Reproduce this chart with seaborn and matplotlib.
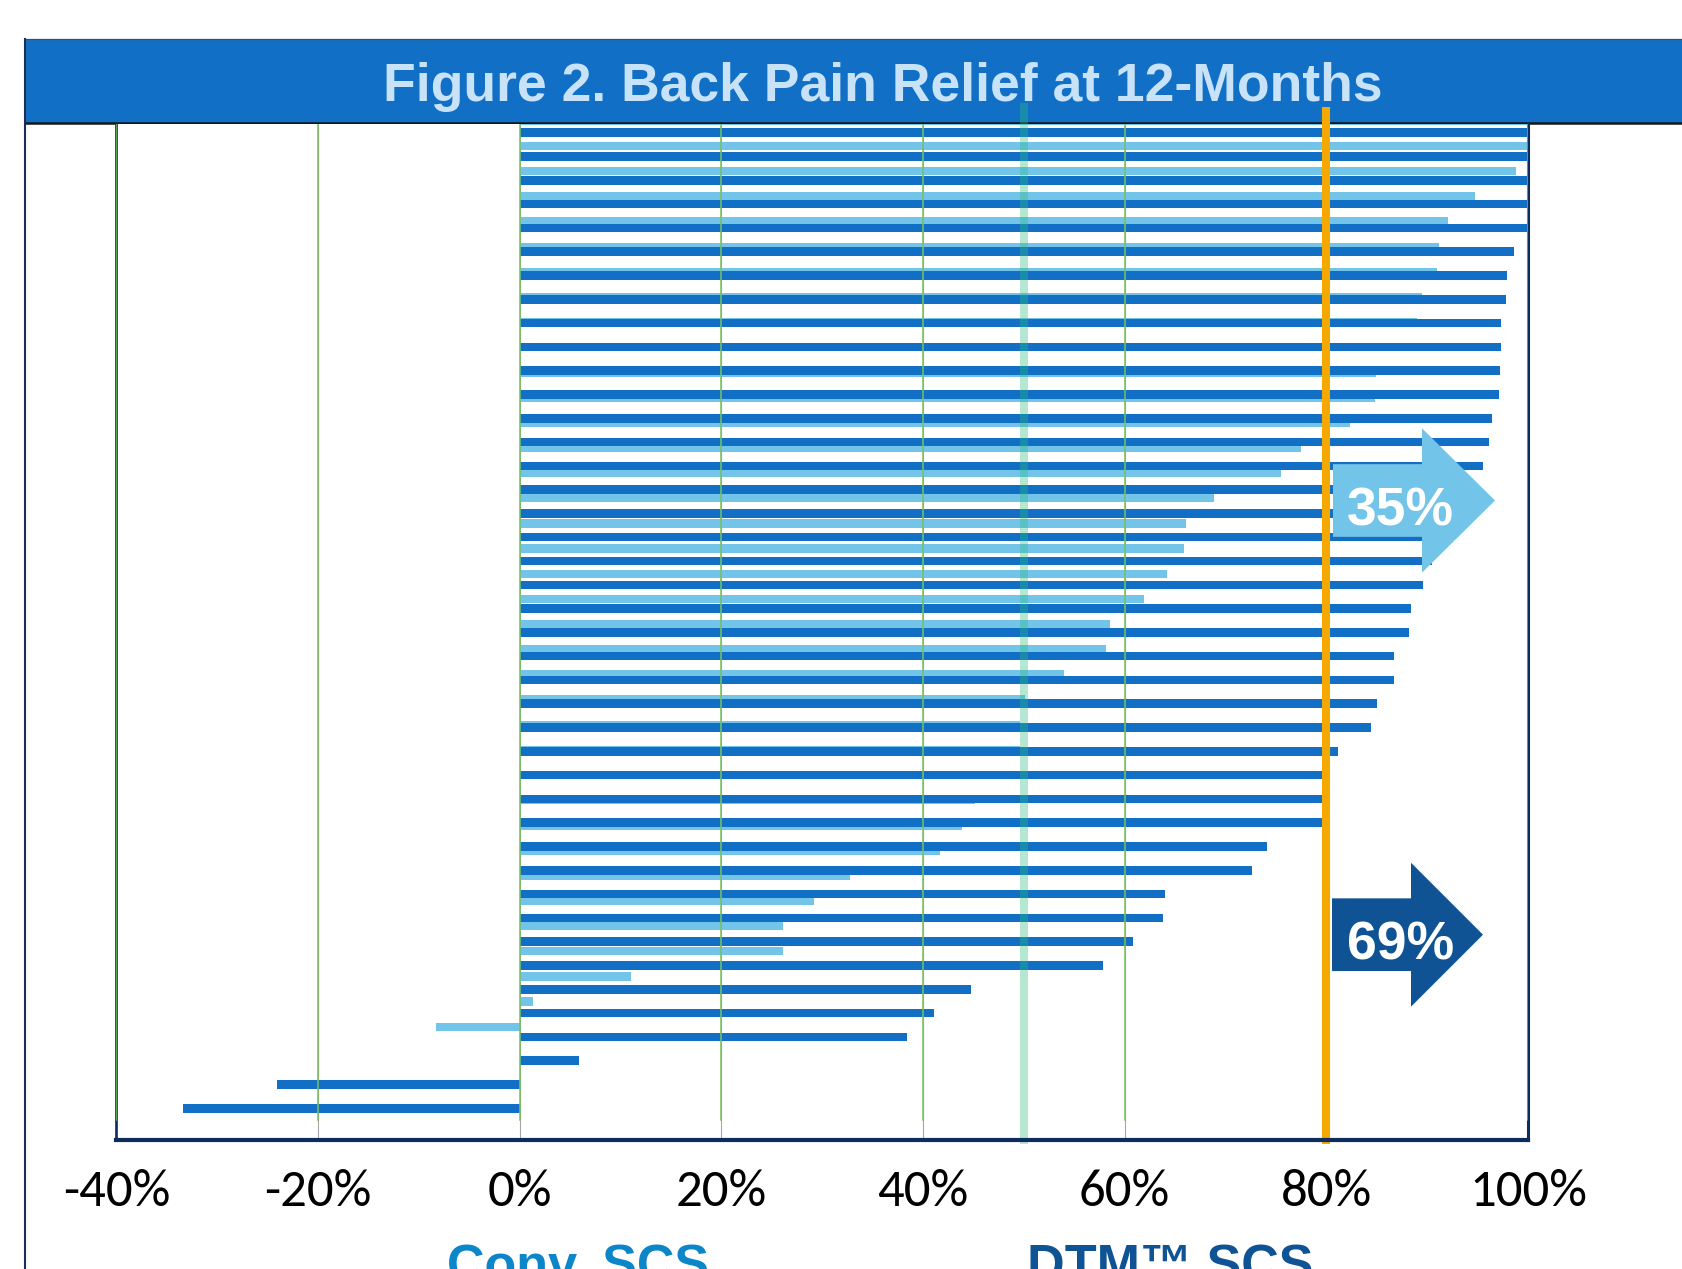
import matplotlib
matplotlib.use("Agg")
import matplotlib.pyplot as plt
import numpy as np
import pandas as pd
import seaborn as sns
from matplotlib.patches import Polygon, Rectangle
from matplotlib.lines import Line2D
from matplotlib import font_manager as fm

# ---------------- data (percent back pain relief at 12 months, one bar per patient) -------------
dtm_relief = [100, 100, 100, 100, 100, 98.6, 97.9, 97.8, 97.3, 97.3, 97.2, 97.1, 96.4, 96.1,
              95.5, 95.0, 93.5, 92.0, 90.5, 89.6, 88.4, 88.2, 86.7, 86.7, 85.0, 84.4, 81.2,
              80.0, 80.0, 79.7, 74.1, 72.6, 64.0, 63.8, 60.8, 57.8, 44.8, 41.1, 38.4, 5.9,
              -24.1, -33.4]
conv_relief = [100, 100, 98.8, 94.7, 92.1, 91.2, 91.0, 89.5, 89.0, 85.1, 84.9, 84.8, 82.3,
               77.5, 75.5, 68.9, 66.1, 65.9, 64.2, 61.9, 58.5, 58.1, 54.0, 50.1, 49.6, 49.6,
               47.4, 45.2, 43.9, 41.7, 32.8, 29.2, 26.1, 26.1, 11.0, 1.3, -8.3]
dtm_ids = [f"DTM-{i + 1}" for i in range(len(dtm_relief))]
conv_ids = [f"CONV-{i + 1}" for i in range(len(conv_relief))]
x_ticks = [-40, -20, 0, 20, 40, 60, 80, 100]
x_tick_labels = ["-40%", "-20%", "0%", "20%", "40%", "60%", "80%", "100%"]
threshold = 80
half_line = 50
dtm_responders = "69%"
conv_responders = "35%"
title = "Figure 2. Back Pain Relief at 12-Months"

# ---------------- style ----------------
DARK = "#1170c6"
LIGHT = "#72c4e8"
BANNER = "#1170c6"
TITLE_C = "#c8e2f8"
NAVY = "#0d2b5c"
GREEN = "#77c15a"
ORANGE = "#f5a800"
MINT = "#2cbd7e"
ARROW_DARK = "#0f5394"
CONV_C = "#0b86c9"
DTM_C = "#0e5394"

W, H = 1683, 1269
fig = plt.figure(figsize=(W / 100, H / 100), dpi=100)
fig.patch.set_facecolor("white")


def fx(px):
    return px / W


def fy(py):
    return 1 - py / H


avail = {f.name for f in fm.fontManager.ttflist}
if "Carlito" in avail:
    tick_family, tick_size = "Carlito", 38
elif "Liberation Sans Narrow" in avail:
    tick_family, tick_size = "Liberation Sans Narrow", 37
else:
    tick_family, tick_size = "Open Sans", 34
bold_family = ["Liberation Sans", "DejaVu Sans"]

# axes geometry (pixels)
ax_left, ax_right, ax_top, ax_bottom = 116.5, 1528.0, 124.0, 1139.5
rect = [fx(ax_left), fy(ax_bottom), (ax_right - ax_left) / W, (ax_bottom - ax_top) / H]
ax_l = fig.add_axes(rect)
ax_d = fig.add_axes(rect, sharex=ax_l)
ax_d.set_facecolor("none")

conv_df = pd.DataFrame({"patient": conv_ids, "relief": conv_relief})
dtm_df = pd.DataFrame({"patient": dtm_ids, "relief": dtm_relief})

sns.barplot(data=conv_df, x="relief", y="patient", orient="h", color=LIGHT, saturation=1,
            width=0.33, linewidth=0, errorbar=None, ax=ax_l)
sns.barplot(data=dtm_df, x="relief", y="patient", orient="h", color=DARK, saturation=1,
            width=0.36, linewidth=0, errorbar=None, ax=ax_d)

# category scales: map pixel rows onto category positions
d0, dstep = 132.7, 23.795
c0, cstep = 120.84, 25.163
ax_d.set_ylim((ax_bottom - d0) / dstep, (ax_top - d0) / dstep)
ax_l.set_ylim((ax_bottom - c0) / cstep, (ax_top - c0) / cstep)
ax_d.set_xlim(-40, 100)

for a in (ax_l, ax_d):
    a.set_ylabel("")
    a.set_xlabel("")
    a.set_yticks([])

ax_l.set_axisbelow(True)
ax_l.grid(axis="x", color="#a6a6a6", lw=0.8)
ax_l.tick_params(axis="x", labelbottom=False, length=0)
for s in ax_l.spines.values():
    s.set_visible(False)

ax_d.set_xticks(x_ticks)
ax_d.set_xticklabels(x_tick_labels)
ax_d.tick_params(axis="x", length=0, pad=21, labelsize=tick_size, labelcolor="black")
for lab in ax_d.get_xticklabels():
    lab.set_fontfamily([tick_family, "DejaVu Sans"])
ax_d.spines["top"].set_visible(False)
ax_d.spines["left"].set_color(NAVY)
ax_d.spines["left"].set_linewidth(1.9)
ax_d.spines["right"].set_color(NAVY)
ax_d.spines["right"].set_linewidth(2.2)
ax_d.spines["bottom"].set_color(NAVY)
ax_d.spines["bottom"].set_linewidth(3.0)
ax_d.spines["bottom"].set_zorder(6)

# green overlay grid lines (stop a bit above the baseline)
g_ymin = (ax_bottom - 1119.5) / (ax_bottom - ax_top)
for t in x_ticks:
    ax_d.axvline(t, ymin=g_ymin, ymax=1, color=GREEN, lw=1.1, zorder=3)

ext_low = -(1144 - ax_bottom) / (ax_bottom - ax_top)
ax_d.axvline(half_line, ymin=ext_low, ymax=1 + (ax_top - 103) / (ax_bottom - ax_top),
             color=MINT, alpha=0.35, lw=5.8, zorder=4, clip_on=False, solid_capstyle="butt")
ax_d.axvline(threshold, ymin=ext_low, ymax=1 + (ax_top - 107) / (ax_bottom - ax_top),
             color=ORANGE, lw=5.8, zorder=5, clip_on=False, solid_capstyle="butt")


# responder arrows
def arrow(x0, xb, xt, yc, body_h, head_h, color, label, text_y):
    pts = [(x0, yc - body_h / 2), (xb, yc - body_h / 2), (xb, yc - head_h / 2), (xt, yc),
           (xb, yc + head_h / 2), (xb, yc + body_h / 2), (x0, yc + body_h / 2)]
    pts = [(fx(px), fy(py)) for px, py in pts]
    ax_d.add_patch(Polygon(pts, closed=True, transform=fig.transFigure, facecolor=color,
                           edgecolor="none", zorder=4.5, clip_on=False))
    ax_d.text(fx(1400.5), fy(text_y), label, transform=fig.transFigure, ha="center",
              va="baseline", color="white", fontsize=38.5, fontweight="bold",
              family=bold_family, zorder=7)


arrow(1333, 1422, 1495, 500.5, 72.7, 144.4, LIGHT, conv_responders, 525)
arrow(1332, 1411, 1483, 934.7, 72.7, 144.0, ARROW_DARK, dtm_responders, 960)

# banner and frame
fig.add_artist(Rectangle((fx(25), fy(123)), 1.0, (123 - 39) / H, transform=fig.transFigure,
                         facecolor=BANNER, edgecolor="none", zorder=-1))
fig.add_artist(Line2D([fx(25), 1.0], [fy(38.8), fy(38.8)], transform=fig.transFigure,
                      color="#4a4a4a", lw=0.9, zorder=-0.5))
fig.add_artist(Line2D([fx(25), 1.0], [fy(123), fy(123)], transform=fig.transFigure,
                      color="#161616", lw=1.8, zorder=-0.5))
fig.add_artist(Line2D([fx(25), fx(25)], [fy(38.5), 0], transform=fig.transFigure,
                      color="#1a2f55", lw=1.5, zorder=-0.5))
fig.text(fx(883), fy(101), title, ha="center", va="baseline", color=TITLE_C,
         fontsize=38.5, fontweight="bold", family=bold_family)

# group labels (cut by the bottom edge as in the original)
fig.text(fx(578.5), fy(1282), "Conv. SCS", ha="center", va="baseline", color=CONV_C,
         fontsize=37.5, fontweight="bold", family=bold_family)
fig.text(fx(1170), fy(1282), "DTM™ SCS", ha="center", va="baseline", color=DTM_C,
         fontsize=37.5, fontweight="bold", family=bold_family)

fig.savefig("out.png", dpi=100)
